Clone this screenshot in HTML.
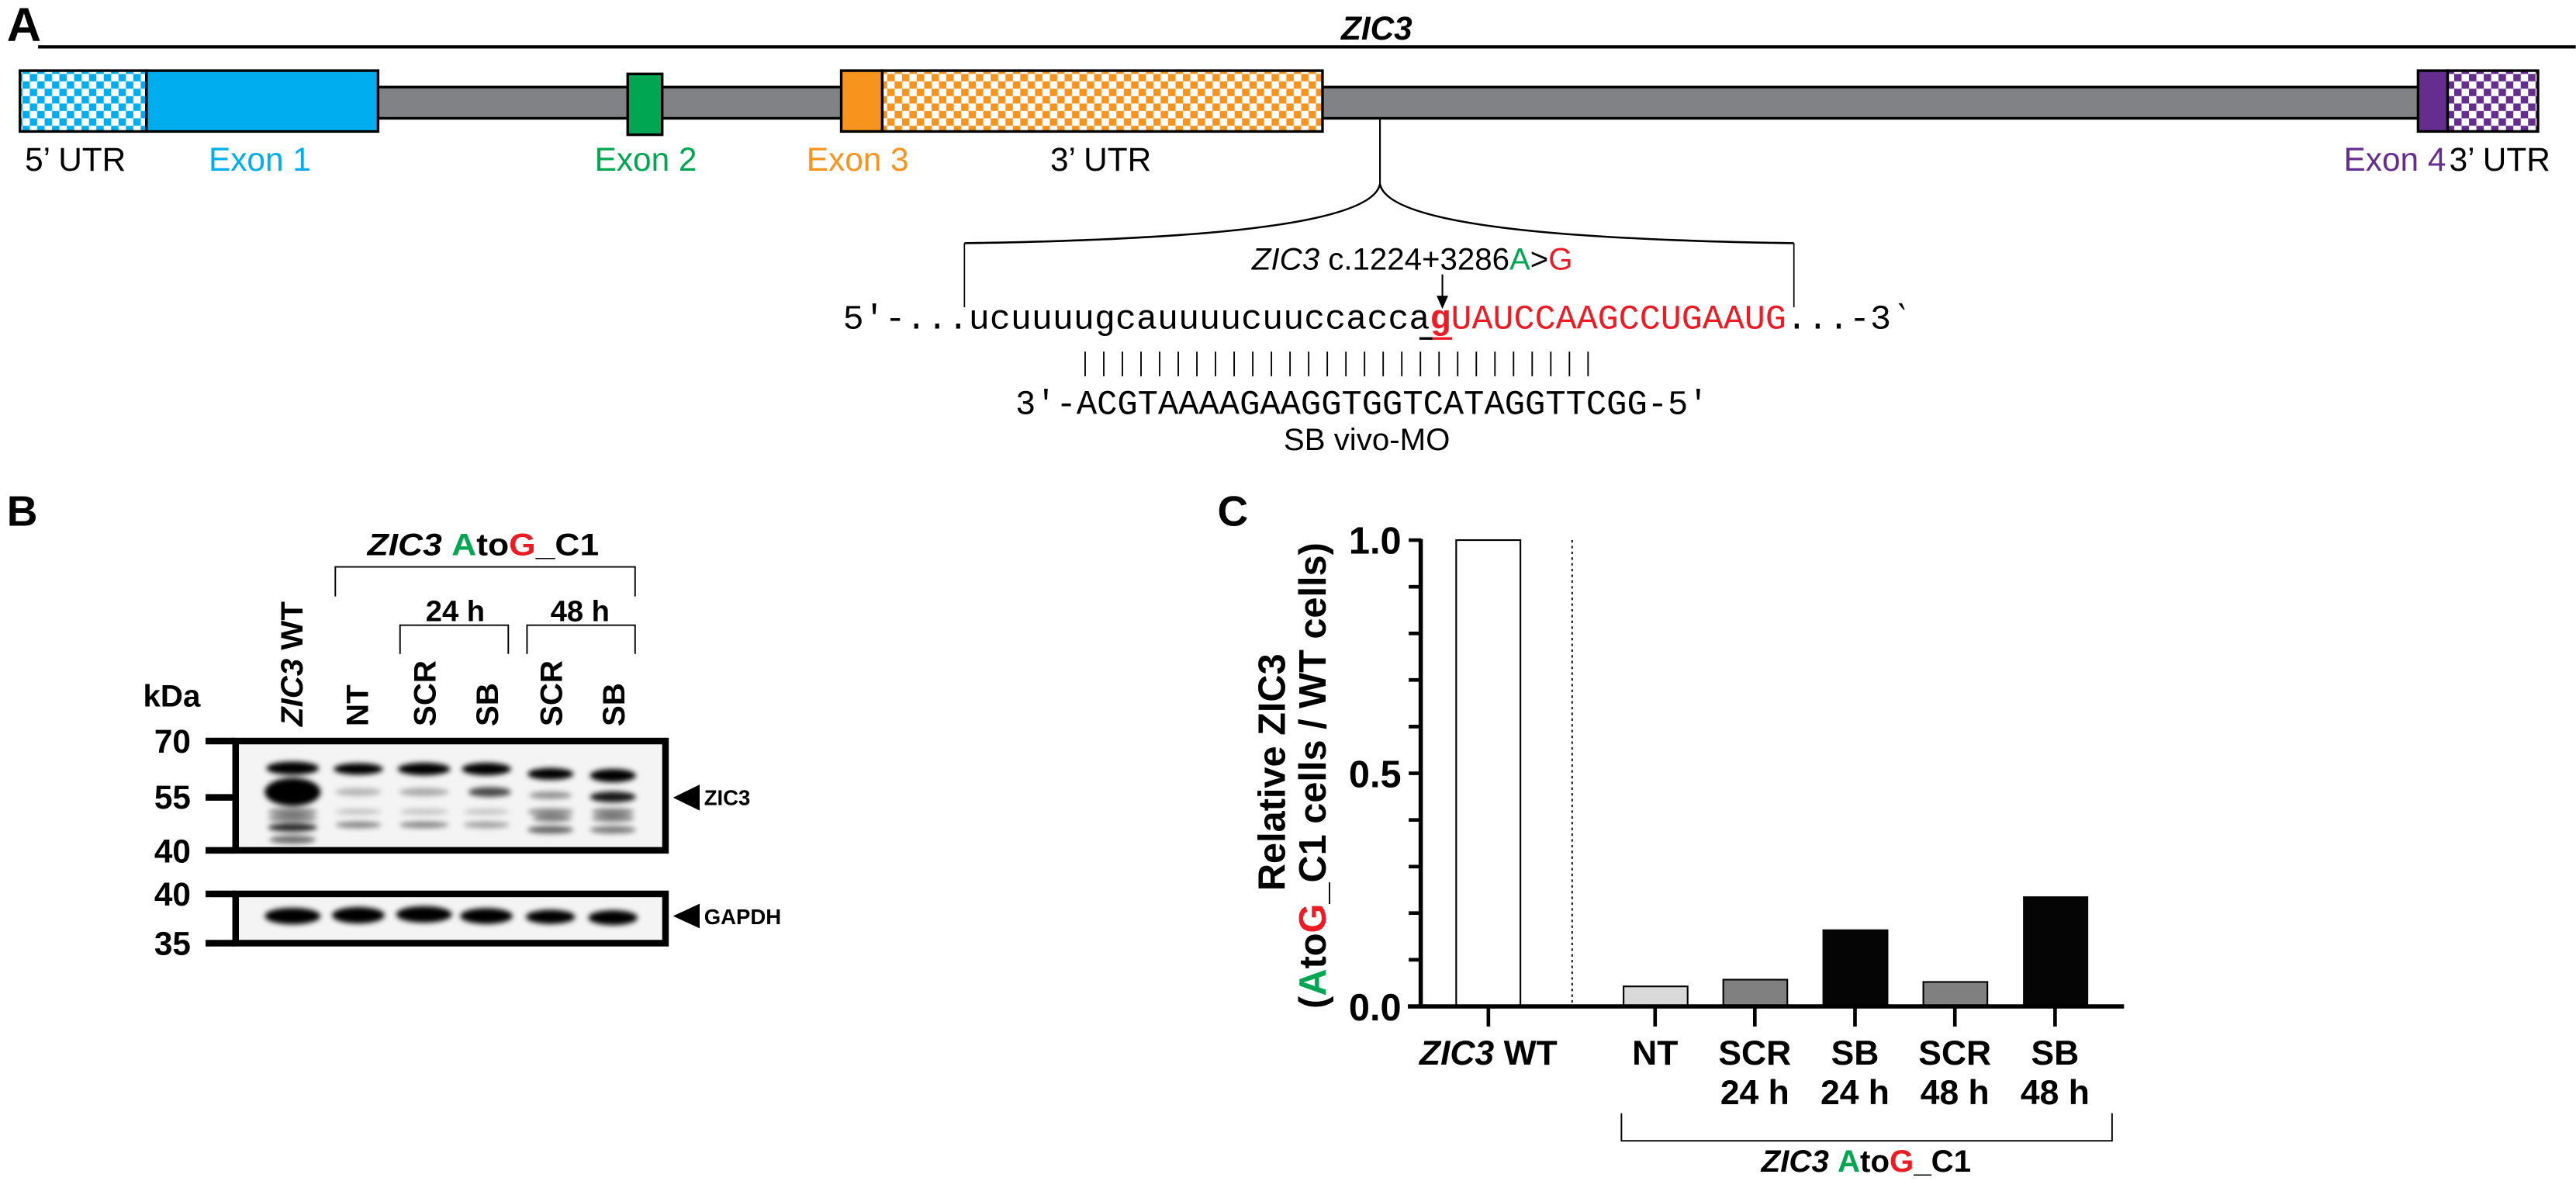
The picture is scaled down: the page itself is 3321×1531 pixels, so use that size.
<!DOCTYPE html>
<html><head><meta charset="utf-8"><style>
html,body{margin:0;padding:0;background:#fff;}
svg{display:block;}
text{font-family:"Liberation Sans",Arial,sans-serif;}
.mono{font-family:"Liberation Mono","Courier New",monospace;}
</style></head><body>
<svg width="3321" height="1531" viewBox="0 0 1568 723" xmlns="http://www.w3.org/2000/svg">
<defs>
<pattern id="cb" width="9" height="9" patternUnits="userSpaceOnUse"><rect width="9" height="9" fill="#fff"/><rect width="4.5" height="4.5" fill="#00AEEF"/><rect x="4.5" y="4.5" width="4.5" height="4.5" fill="#00AEEF"/></pattern>
<pattern id="co" width="9" height="9" patternUnits="userSpaceOnUse"><rect width="9" height="9" fill="#fff"/><rect width="4.5" height="4.5" fill="#F7941D"/><rect x="4.5" y="4.5" width="4.5" height="4.5" fill="#F7941D"/></pattern>
<pattern id="cp" width="9" height="9" patternUnits="userSpaceOnUse"><rect width="9" height="9" fill="#fff"/><rect width="4.5" height="4.5" fill="#662D91"/><rect x="4.5" y="4.5" width="4.5" height="4.5" fill="#662D91"/></pattern>
<filter id="bl" x="-30%" y="-100%" width="160%" height="300%"><feGaussianBlur stdDeviation="1.6"/></filter>
</defs>

<!-- PANEL A -->
<text x="4" y="25" font-size="29" font-weight="bold">A</text>
<line x1="23" y1="28.5" x2="1568" y2="28.5" stroke="#000" stroke-width="2"/>
<text x="838" y="24" font-size="20" font-weight="bold" font-style="italic" text-anchor="middle">ZIC3</text>

<rect x="100" y="53" width="1390" height="19" fill="#808285" stroke="#000" stroke-width="1.6"/>
<rect x="12" y="43" width="77" height="37" fill="url(#cb)" stroke="#000" stroke-width="1.6"/>
<rect x="89" y="43" width="141" height="37" fill="#00AEEF" stroke="#000" stroke-width="1.6"/>
<rect x="382" y="45" width="21" height="37" fill="#00A651" stroke="#000" stroke-width="1.6"/>
<rect x="512" y="43" width="25" height="37" fill="#F7941D" stroke="#000" stroke-width="1.6"/>
<rect x="537" y="43" width="268" height="37" fill="url(#co)" stroke="#000" stroke-width="1.6"/>
<rect x="1472" y="43" width="18" height="37" fill="#662D91" stroke="#000" stroke-width="1.6"/>
<rect x="1490" y="43" width="55" height="37" fill="url(#cp)" stroke="#000" stroke-width="1.6"/>

<g font-size="20">
<text x="15" y="104">5’ UTR</text>
<text x="158" y="104" fill="#00AEEF" text-anchor="middle">Exon 1</text>
<text x="393" y="104" fill="#00A651" text-anchor="middle">Exon 2</text>
<text x="522" y="104" fill="#F7941D" text-anchor="middle">Exon 3</text>
<text x="670" y="104" text-anchor="middle">3’ UTR</text>
<text x="1489" y="104" fill="#662D91" text-anchor="end">Exon 4</text>
<text x="1491" y="104">3’ UTR</text>
</g>

<line x1="840" y1="72" x2="840" y2="113" stroke="#000" stroke-width="1"/>
<path d="M587,148 C720,146 835,138 840,112 C845,138 960,146 1092,148" fill="none" stroke="#000" stroke-width="1.2"/>
<line x1="587" y1="148" x2="587" y2="187" stroke="#000" stroke-width="0.8"/>
<line x1="1092" y1="148" x2="1092" y2="187" stroke="#000" stroke-width="0.8"/>

<text x="762" y="164" font-size="19"><tspan font-style="italic">ZIC3</tspan> c.1224+3286<tspan fill="#00A651">A</tspan>&gt;<tspan fill="#ED1C24">G</tspan></text>
<line x1="878" y1="167" x2="878" y2="181" stroke="#000" stroke-width="1"/>
<path d="M874.5,180 L881.5,180 L878,188 Z" fill="#000"/>

<text class="mono" x="513" y="200" font-size="21" textLength="651" lengthAdjust="spacingAndGlyphs">5′-...ucuuuugcauuuucuuccacca<tspan fill="#ED1C24" font-weight="bold">g</tspan><tspan fill="#ED1C24">UAUCCAAGCCUGAAUG</tspan>...-3‵</text>
<line x1="864" y1="206" x2="872" y2="206" stroke="#000" stroke-width="1.6"/>
<line x1="872" y1="206" x2="884" y2="206" stroke="#ED1C24" stroke-width="1.6"/>
<g stroke="#000" stroke-width="0.7">
<path d="M660.4,214V229M669.4,214V229M678.4,214V229M687.4,214V229M696.4,214V229M705.4,214V229M714.4,214V229M723.4,214V229M732.4,214V229M741.4,214V229M750.4,214V229M759.4,214V229M768.4,214V229M777.4,214V229M786.4,214V229M795.4,214V229M804.4,214V229M813.4,214V229M822.4,214V229M831.4,214V229M840.4,214V229M849.4,214V229M858.4,214V229M867.4,214V229M876.4,214V229M885.4,214V229M894.4,214V229M903.4,214V229" transform="translate(660,0) scale(1.26,1) translate(-660,0)"/>
</g>
<text class="mono" x="618" y="252" font-size="21" textLength="422" lengthAdjust="spacingAndGlyphs">3′-ACGTAAAAGAAGGTGGTCATAGGTTCGG-5′</text>
<text x="832" y="274" font-size="19" text-anchor="middle">SB vivo-MO</text>

<!-- PANEL B -->
<text x="4" y="320" font-size="26" font-weight="bold">B</text>
<text x="294" y="338" font-size="19" font-weight="bold" text-anchor="middle" textLength="141" lengthAdjust="spacingAndGlyphs"><tspan font-style="italic">ZIC3</tspan> <tspan fill="#00A651">A</tspan>to<tspan fill="#ED1C24">G</tspan>_C1</text>
<path d="M204,363V345H386.5V363" fill="none" stroke="#000" stroke-width="0.9"/>
<text x="277" y="378" font-size="18" font-weight="bold" text-anchor="middle">24 h</text>
<text x="353" y="378" font-size="18" font-weight="bold" text-anchor="middle">48 h</text>
<path d="M243.4,398V380.5H309.3V398" fill="none" stroke="#000" stroke-width="0.9"/>
<path d="M320.7,398V380.5H386.5V398" fill="none" stroke="#000" stroke-width="0.9"/>
<g font-size="19" font-weight="bold">
<text transform="translate(184,442) rotate(-90)"><tspan font-style="italic">ZIC3</tspan> WT</text>
<text transform="translate(224,442) rotate(-90)">NT</text>
<text transform="translate(265,442) rotate(-90)">SCR</text>
<text transform="translate(303,442) rotate(-90)">SB</text>
<text transform="translate(342,442) rotate(-90)">SCR</text>
<text transform="translate(380,442) rotate(-90)">SB</text>
</g>
<text x="87" y="430" font-size="19" font-weight="bold">kDa</text>

<rect x="143.3" y="451" width="261.7" height="66.5" fill="#f4f4f4"/>
<rect x="143.3" y="544" width="261.7" height="30" fill="#f4f4f4"/>
<g filter="url(#bl)" fill="#000">
<ellipse cx="178" cy="467.5" rx="16" ry="4" />
<ellipse cx="178" cy="482" rx="17" ry="8.5"/>
<ellipse cx="178" cy="494" rx="15" ry="2" opacity="0.5"/>
<ellipse cx="178" cy="498" rx="15" ry="2" opacity="0.5"/>
<ellipse cx="178" cy="503.6" rx="15" ry="2.5" opacity="0.85"/>
<ellipse cx="178" cy="511" rx="14" ry="2.5" opacity="0.55"/>
<ellipse cx="218" cy="468" rx="15" ry="3.5"/>
<ellipse cx="218" cy="482" rx="14" ry="2.5" opacity="0.25"/>
<ellipse cx="218" cy="494" rx="14" ry="1.8" opacity="0.2"/>
<ellipse cx="218" cy="502" rx="14" ry="2" opacity="0.45"/>
<ellipse cx="258" cy="468" rx="16" ry="3.8"/>
<ellipse cx="258" cy="482" rx="15" ry="2.5" opacity="0.3"/>
<ellipse cx="258" cy="494" rx="15" ry="1.8" opacity="0.2"/>
<ellipse cx="258" cy="502" rx="15" ry="2" opacity="0.45"/>
<ellipse cx="296" cy="468" rx="15" ry="3.8"/>
<ellipse cx="298" cy="482" rx="13" ry="3" opacity="0.7"/>
<ellipse cx="296" cy="494" rx="14" ry="1.8" opacity="0.2"/>
<ellipse cx="296" cy="502" rx="14" ry="2" opacity="0.35"/>
<ellipse cx="335" cy="471" rx="14" ry="3.6"/>
<ellipse cx="335" cy="484" rx="13" ry="2.3" opacity="0.4"/>
<ellipse cx="335" cy="494" rx="14" ry="2" opacity="0.45"/>
<ellipse cx="336" cy="498" rx="12" ry="2" opacity="0.5"/>
<ellipse cx="335" cy="505" rx="14" ry="2.3" opacity="0.6"/>
<ellipse cx="373" cy="472" rx="14" ry="4"/>
<ellipse cx="373" cy="485" rx="14" ry="3.3" opacity="0.9"/>
<ellipse cx="373" cy="494" rx="13" ry="2" opacity="0.5"/>
<ellipse cx="373" cy="498" rx="13" ry="2" opacity="0.5"/>
<ellipse cx="373" cy="505" rx="14" ry="2.3" opacity="0.5"/>
<ellipse cx="178" cy="557.5" rx="17" ry="5"/>
<ellipse cx="218" cy="557" rx="16" ry="5"/>
<ellipse cx="258" cy="556.5" rx="17" ry="5"/>
<ellipse cx="296" cy="557.5" rx="16" ry="4.8"/>
<ellipse cx="335" cy="558" rx="15" ry="4.3"/>
<ellipse cx="373" cy="558.5" rx="15" ry="4.5"/>
</g>
<rect x="143.3" y="451" width="261.7" height="66.5" fill="none" stroke="#000" stroke-width="4"/>
<rect x="143.3" y="544" width="261.7" height="30" fill="none" stroke="#000" stroke-width="4"/>
<g stroke="#000" stroke-width="4">
<line x1="125" y1="451" x2="143" y2="451"/><line x1="125" y1="485.3" x2="143" y2="485.3"/><line x1="125" y1="517.5" x2="143" y2="517.5"/>
<line x1="125" y1="544" x2="143" y2="544"/><line x1="125" y1="574" x2="143" y2="574"/>
</g>
<g font-size="20" font-weight="bold" text-anchor="end">
<text x="116" y="458">70</text><text x="116" y="492">55</text><text x="116" y="525">40</text>
<text x="116" y="551">40</text><text x="116" y="581">35</text>
</g>
<path d="M409.6,485.4 L425.8,477.5 L425.8,493.3 Z" fill="#000"/>
<text x="428.5" y="490" font-size="13" font-weight="bold">ZIC3</text>
<path d="M409.6,557.5 L425.8,550 L425.8,565 Z" fill="#000"/>
<text x="428.5" y="562.5" font-size="13" font-weight="bold">GAPDH</text>

<!-- PANEL C -->
<text x="741" y="320" font-size="26" font-weight="bold">C</text>
<g font-size="23" font-weight="bold">
<text transform="translate(782,470) rotate(-90)" text-anchor="middle">Relative ZIC3</text>
<text transform="translate(807,472) rotate(-90)" text-anchor="middle">(<tspan fill="#00A651">A</tspan>to<tspan fill="#ED1C24">G</tspan>_C1 cells / WT cells)</text>
</g>
<rect x="886.4" y="328.7" width="39.1" height="283.8" fill="#fff" stroke="#000" stroke-width="1"/>
<line x1="957" y1="328.7" x2="957" y2="611" stroke="#000" stroke-width="0.9" stroke-dasharray="1.5,2"/>
<rect x="988.3" y="600.3" width="39" height="12.2" fill="#d9d9d9" stroke="#000" stroke-width="1"/>
<rect x="1049" y="596.2" width="39" height="16.3" fill="#808080" stroke="#000" stroke-width="1"/>
<rect x="1109.4" y="565.6" width="40.1" height="46.9" fill="#050505"/>
<rect x="1170.8" y="597.6" width="39" height="14.9" fill="#808080" stroke="#000" stroke-width="1"/>
<rect x="1231.5" y="545.5" width="39.7" height="67" fill="#050505"/>
<line x1="864.8" y1="328" x2="864.8" y2="613.5" stroke="#000" stroke-width="2.6"/>
<line x1="857" y1="612.5" x2="1293" y2="612.5" stroke="#000" stroke-width="2.6"/>
<g stroke="#000" stroke-width="2.2">
<path d="M857.5,328.7H865M857.5,357.1H865M857.5,385.5H865M857.5,413.8H865M857.5,442.2H865M857.5,470.6H865M857.5,499H865M857.5,527.4H865M857.5,555.7H865M857.5,584.1H865"/>
<path d="M906,612V624.7M1007.5,612V624.7M1068.2,612V624.7M1129.2,612V624.7M1190,612V624.7M1251,612V624.7"/>
</g>
<g font-size="23" font-weight="bold" text-anchor="end">
<text x="853" y="337">1.0</text><text x="853" y="479">0.5</text><text x="853" y="621">0.0</text>
</g>
<g font-size="21" font-weight="bold" text-anchor="middle">
<text x="906" y="648"><tspan font-style="italic">ZIC3</tspan> WT</text>
<text x="1007.5" y="648">NT</text>
<text x="1068.2" y="648">SCR</text><text x="1068.2" y="672">24 h</text>
<text x="1129.2" y="648">SB</text><text x="1129.2" y="672">24 h</text>
<text x="1190" y="648">SCR</text><text x="1190" y="672">48 h</text>
<text x="1251" y="648">SB</text><text x="1251" y="672">48 h</text>
</g>
<path d="M987,677.5V694.3H1285.7V677.5" fill="none" stroke="#000" stroke-width="0.9"/>
<text x="1136" y="713" font-size="19" font-weight="bold" text-anchor="middle"><tspan font-style="italic">ZIC3</tspan> <tspan fill="#00A651">A</tspan>to<tspan fill="#ED1C24">G</tspan>_C1</text>
</svg>
</body></html>
